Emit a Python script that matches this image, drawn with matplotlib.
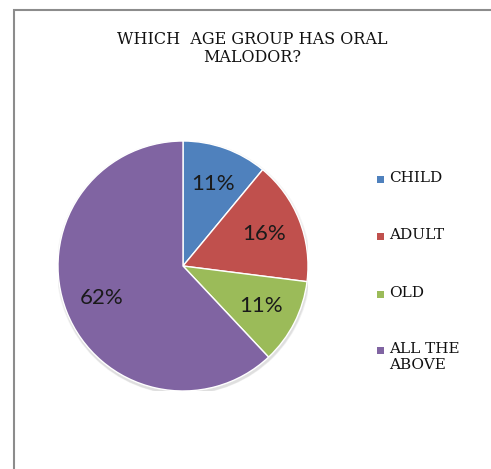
import matplotlib.pyplot as plt
from matplotlib.patches import Rectangle, Circle

# group shares (percent), drawn clockwise from 12 o'clock
groups = ['CHILD', 'ADULT', 'OLD', 'ALL THE\nABOVE']
shares = [11, 16, 11, 62]
colors = ['#4F81BD', '#C0504D', '#9BBB59', '#8064A2']

W, H = 491, 469
fig = plt.figure(figsize=(W / 100, H / 100), dpi=100)
fig.patch.set_facecolor('white')

# chart frame (runs off the right and bottom)
fig.patches.append(Rectangle((14 / W, -0.05), 1.0, (H - 10) / H + 0.05,
                             transform=fig.transFigure, fill=False,
                             edgecolor='#8c8c8c', linewidth=1.5))

title_font = 'DejaVu Serif'
fig.text(252 / W, 1 - 40 / H, 'WHICH  AGE GROUP HAS ORAL', ha='center', va='center',
         fontsize=11.5, family=title_font, color='#111111')
fig.text(252 / W, 1 - 58 / H, 'MALODOR?', ha='center', va='center',
         fontsize=11.5, family=title_font, color='#111111')

# pie centre (183, 266), radius 125 px
cx, cy, R = 183, 266, 125
ax = fig.add_axes([(cx - R) / W, 1 - (cy + R) / H, 2 * R / W, 2 * R / H])
ax.axis('off')

# soft drop shadow
for k, a in enumerate([0.06, 0.06, 0.08]):
    ax.add_patch(Circle((0.005, -0.012 - 0.004 * k), 1.0 + 0.006 * (3 - k),
                        color='#555555', alpha=a, zorder=0, linewidth=0))

wedges, _, pcts = ax.pie(shares, colors=colors, startangle=90, counterclock=False,
                         radius=1.0, autopct='%1.0f%%', pctdistance=0.7,
                         wedgeprops=dict(edgecolor='white', linewidth=1.0),
                         textprops=dict(fontsize=16, family='Lato', color='#1a1a1a'))
for w in wedges:
    w.set_zorder(2)
for t in pcts:
    t.set_zorder(3)
ax.set_xlim(-1, 1)
ax.set_ylim(-1, 1)
ax.set_aspect('equal')

# legend
ys = [180, 237, 295, 351]
for name, col, y in zip(groups, colors, ys):
    fig.patches.append(Rectangle((377 / W, 1 - (y + 3) / H), 7 / W, 7 / H,
                                 transform=fig.transFigure, facecolor=col,
                                 edgecolor='none'))
    fig.text(389 / W, 1 - (y - 9) / H, name, ha='left', va='top', fontsize=11,
             family=title_font, color='#111111', linespacing=1.15)

fig.savefig('out.png', dpi=100)
